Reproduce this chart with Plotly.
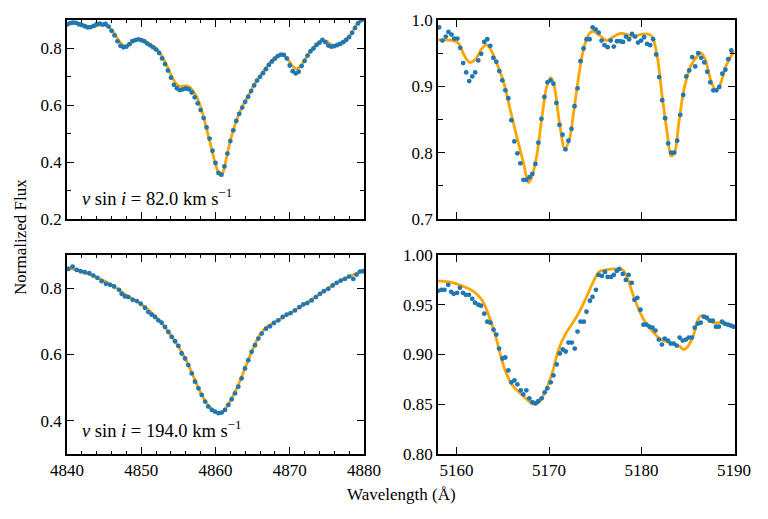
import plotly.graph_objects as go

# ---------------- data ----------------
# Top-left: H-beta, vsini = 82 km/s
wl_tl = [4840.0, 4840.4, 4840.8, 4841.2, 4841.6, 4842.0, 4842.4, 4842.8, 4843.2, 4843.6,
         4844.0, 4844.4, 4844.8, 4845.2, 4845.6, 4846.0, 4846.4, 4846.8, 4847.2, 4847.6,
         4848.0, 4848.4, 4848.8, 4849.2, 4849.6, 4850.0, 4850.4, 4850.8, 4851.2, 4851.6,
         4852.0, 4852.4, 4852.8, 4853.2, 4853.6, 4854.0, 4854.4, 4854.8, 4855.2, 4855.6,
         4856.0, 4856.4, 4856.8, 4857.2, 4857.6, 4858.0, 4858.4, 4858.8, 4859.2, 4859.6,
         4860.0, 4860.4, 4860.8, 4861.2, 4861.6, 4862.0, 4862.4, 4862.8, 4863.2, 4863.6,
         4864.0, 4864.4, 4864.8, 4865.2, 4865.6, 4866.0, 4866.4, 4866.8, 4867.2, 4867.6,
         4868.0, 4868.4, 4868.8, 4869.2, 4869.6, 4870.0, 4870.4, 4870.8, 4871.2, 4871.6,
         4872.0, 4872.4, 4872.8, 4873.2, 4873.6, 4874.0, 4874.4, 4874.8, 4875.2, 4875.6,
         4876.0, 4876.4, 4876.8, 4877.2, 4877.6, 4878.0, 4878.4, 4878.8, 4879.2, 4879.6,
         4880.0]
fx_tl = [0.884, 0.889, 0.891, 0.890, 0.885, 0.882, 0.878, 0.874, 0.875, 0.879,
         0.885, 0.887, 0.884, 0.886, 0.877, 0.862, 0.846, 0.825, 0.809, 0.804,
         0.806, 0.815, 0.826, 0.829, 0.832, 0.829, 0.825, 0.817, 0.811, 0.804,
         0.796, 0.784, 0.765, 0.745, 0.722, 0.697, 0.672, 0.660, 0.653, 0.656,
         0.659, 0.656, 0.645, 0.628, 0.607, 0.583, 0.555, 0.522, 0.483, 0.440,
         0.397, 0.362, 0.356, 0.385, 0.430, 0.474, 0.512, 0.545, 0.570, 0.592,
         0.612, 0.630, 0.650, 0.670, 0.687, 0.700, 0.713, 0.727, 0.742, 0.754,
         0.764, 0.773, 0.778, 0.777, 0.765, 0.740, 0.720, 0.712, 0.718, 0.738,
         0.756, 0.775, 0.790, 0.800, 0.812, 0.820, 0.830, 0.822, 0.810, 0.806,
         0.808, 0.812, 0.816, 0.822, 0.830, 0.840, 0.855, 0.872, 0.888, 0.899,
         0.903]
mwl_tl = [4840.0, 4841.0, 4842.0, 4843.0, 4844.0, 4844.6, 4845.4, 4846.0, 4846.6, 4847.2,
          4847.8, 4848.4, 4849.0, 4849.6, 4850.3, 4851.0, 4851.6, 4852.2, 4852.8, 4853.4,
          4854.0, 4854.6, 4855.2, 4855.8, 4856.4, 4857.0, 4857.6, 4858.2, 4858.8, 4859.4,
          4860.0, 4860.6, 4861.0, 4861.5, 4862.0, 4862.6, 4863.2, 4863.8, 4864.4, 4865.0,
          4865.6, 4866.2, 4866.8, 4867.4, 4868.0, 4868.6, 4869.2, 4869.8, 4870.4, 4870.9,
          4871.4, 4872.0, 4872.6, 4873.2, 4873.8, 4874.4, 4875.0, 4875.6, 4876.2, 4876.8,
          4877.4, 4878.0, 4878.6, 4879.2, 4880.0]
mfx_tl = [0.885, 0.888, 0.884, 0.876, 0.879, 0.883, 0.880, 0.866, 0.843, 0.820,
          0.808, 0.812, 0.825, 0.832, 0.830, 0.818, 0.807, 0.795, 0.773, 0.742,
          0.708, 0.679, 0.667, 0.668, 0.666, 0.650, 0.622, 0.577, 0.517, 0.455,
          0.392, 0.354, 0.364, 0.418, 0.476, 0.530, 0.572, 0.605, 0.633, 0.662,
          0.688, 0.711, 0.733, 0.752, 0.767, 0.778, 0.777, 0.760, 0.737, 0.728,
          0.736, 0.759, 0.783, 0.803, 0.819, 0.828, 0.824, 0.813, 0.811, 0.817,
          0.828, 0.842, 0.866, 0.891, 0.905]

# Top-right: Mg b region, vsini = 82 km/s
wl_tr = [5158.12, 5158.48, 5158.84, 5159.13, 5159.46, 5159.75, 5160.10, 5160.40, 5160.72, 5161.05,
         5161.37, 5161.70, 5162.02, 5162.35, 5162.67, 5163.00, 5163.32, 5163.65, 5163.98, 5164.30,
         5164.63, 5164.95, 5165.28, 5165.60, 5165.93, 5166.25, 5166.58, 5166.90, 5167.23, 5167.55,
         5167.88, 5168.20, 5168.53, 5168.85, 5169.18, 5169.50, 5169.83, 5170.16, 5170.48, 5170.80,
         5171.13, 5171.46, 5171.78, 5172.10, 5172.43, 5172.76, 5173.08, 5173.40, 5173.73, 5174.06,
         5174.38, 5174.71, 5175.03, 5175.36, 5175.68, 5176.00, 5176.34, 5176.66, 5177.00, 5177.35,
         5177.70, 5178.00, 5178.32, 5178.65, 5178.97, 5179.30, 5179.62, 5179.95, 5180.28, 5180.60,
         5180.93, 5181.25, 5181.58, 5181.90, 5182.23, 5182.55, 5182.88, 5183.20, 5183.53, 5183.85,
         5184.18, 5184.50, 5184.83, 5185.15, 5185.48, 5185.80, 5186.13, 5186.45, 5186.78, 5187.10,
         5187.43, 5187.76, 5188.08, 5188.40, 5188.73, 5189.06, 5189.38, 5189.70]
fx_tr = [0.989, 0.969, 0.975, 0.982, 0.978, 0.972, 0.972, 0.958, 0.935, 0.921,
         0.908, 0.915, 0.921, 0.939, 0.949, 0.967, 0.971, 0.961, 0.943, 0.937,
         0.923, 0.909, 0.894, 0.882, 0.849, 0.817, 0.799, 0.784, 0.759, 0.759,
         0.763, 0.768, 0.783, 0.815, 0.851, 0.884, 0.906, 0.909, 0.904, 0.875,
         0.842, 0.827, 0.805, 0.818, 0.836, 0.870, 0.897, 0.938, 0.957, 0.971,
         0.971, 0.989, 0.986, 0.981, 0.969, 0.962, 0.959, 0.969, 0.960, 0.968,
         0.968, 0.967, 0.975, 0.971, 0.979, 0.975, 0.966, 0.969, 0.974, 0.964,
         0.962, 0.971, 0.948, 0.914, 0.879, 0.852, 0.814, 0.800, 0.800, 0.818,
         0.857, 0.887, 0.915, 0.924, 0.944, 0.930, 0.950, 0.943, 0.936, 0.922,
         0.906, 0.894, 0.894, 0.899, 0.919, 0.925, 0.941, 0.954]
mwl_tr = [5158.0, 5159.64, 5160.2, 5160.9, 5161.45, 5162.0, 5162.7, 5163.2, 5163.6, 5164.34,
          5165.06, 5165.8, 5166.5, 5167.23, 5167.77, 5168.1, 5168.67, 5169.2, 5169.76, 5170.2,
          5170.6, 5171.13, 5171.7, 5172.2, 5172.7, 5173.37, 5173.9, 5174.46, 5174.8, 5175.54,
          5176.26, 5177.0, 5177.7, 5178.43, 5179.15, 5179.88, 5180.6, 5181.14, 5181.7, 5182.23,
          5182.77, 5183.2, 5183.57, 5184.03, 5184.58, 5185.3, 5186.0, 5186.45, 5186.9, 5187.47,
          5188.0, 5188.5, 5189.1, 5190.0]
mfx_tr = [0.970, 0.969, 0.965, 0.945, 0.936, 0.940, 0.956, 0.963, 0.958, 0.935,
          0.908, 0.865, 0.825, 0.785, 0.755, 0.762, 0.795, 0.850, 0.900, 0.913,
          0.898, 0.845, 0.806, 0.820, 0.865, 0.930, 0.965, 0.981, 0.983, 0.976,
          0.969, 0.975, 0.980, 0.978, 0.975, 0.978, 0.979, 0.975, 0.945, 0.885,
          0.830, 0.795, 0.800, 0.845, 0.895, 0.930, 0.945, 0.950, 0.940, 0.910,
          0.895, 0.903, 0.930, 0.953]

# Bottom-left: H-beta, vsini = 194 km/s
wl_bl = [4840.2, 4840.76, 4841.3, 4841.84, 4842.4, 4843.0, 4843.55, 4844.1, 4844.67, 4845.25,
         4845.8, 4846.33, 4847.0, 4847.36, 4847.8, 4848.26, 4848.84, 4849.4, 4849.92, 4850.5,
         4850.95, 4851.4, 4851.85, 4852.3, 4852.75, 4853.2, 4853.65, 4854.1, 4854.55, 4855.0,
         4855.44, 4855.9, 4856.34, 4856.8, 4857.24, 4857.7, 4858.14, 4858.6, 4859.03, 4859.5,
         4859.93, 4860.4, 4860.83, 4861.28, 4861.73, 4862.18, 4862.63, 4863.07, 4863.52, 4863.97,
         4864.42, 4864.87, 4865.32, 4865.77, 4866.22, 4866.8, 4867.34, 4867.88, 4868.46, 4869.05,
         4869.58, 4870.12, 4870.7, 4871.3, 4871.83, 4872.37, 4872.95, 4873.53, 4874.07, 4874.6,
         4875.2, 4875.78, 4876.32, 4876.86, 4877.44, 4878.0, 4878.56, 4879.0, 4879.46, 4879.9]
fx_bl = [0.858, 0.865, 0.855, 0.851, 0.848, 0.845, 0.838, 0.831, 0.821, 0.813,
         0.810, 0.805, 0.795, 0.783, 0.775, 0.773, 0.765, 0.761, 0.753, 0.741,
         0.728, 0.720, 0.713, 0.703, 0.696, 0.683, 0.668, 0.653, 0.640, 0.626,
         0.603, 0.588, 0.568, 0.543, 0.518, 0.498, 0.478, 0.458, 0.443, 0.433,
         0.428, 0.423, 0.425, 0.433, 0.448, 0.465, 0.483, 0.503, 0.528, 0.558,
         0.583, 0.608, 0.628, 0.648, 0.663, 0.678, 0.685, 0.695, 0.703, 0.713,
         0.720, 0.725, 0.733, 0.743, 0.751, 0.755, 0.763, 0.773, 0.783, 0.791,
         0.798, 0.808, 0.816, 0.823, 0.828, 0.835, 0.828, 0.841, 0.850, 0.851]
mwl_bl = [4840.0, 4842.0, 4844.0, 4846.0, 4848.0, 4850.0, 4852.0, 4854.0, 4856.0, 4857.0,
          4858.0, 4859.0, 4860.0, 4860.5, 4861.0, 4862.0, 4863.0, 4864.0, 4865.0, 4866.0,
          4867.0, 4868.0, 4870.0, 4872.0, 4874.0, 4876.0, 4878.0, 4880.0]
mfx_bl = [0.862, 0.850, 0.833, 0.810, 0.779, 0.752, 0.713, 0.658, 0.585, 0.535,
          0.485, 0.447, 0.427, 0.424, 0.428, 0.460, 0.505, 0.560, 0.615, 0.660,
          0.685, 0.698, 0.724, 0.752, 0.782, 0.812, 0.835, 0.855]

# Bottom-right: Mg b region, vsini = 194 km/s
wl_br = [5158.0, 5158.37, 5158.7, 5159.1, 5159.42, 5159.7, 5160.07, 5160.36, 5160.7, 5161.0,
         5161.35, 5161.7, 5162.0, 5162.36, 5162.65, 5163.0, 5163.33, 5163.66, 5164.0, 5164.3,
         5164.6, 5164.97, 5165.27, 5165.6, 5165.93, 5166.26, 5166.58, 5166.94, 5167.22, 5167.55,
         5167.87, 5168.2, 5168.55, 5168.84, 5169.2, 5169.53, 5169.82, 5170.18, 5170.47, 5170.83,
         5171.16, 5171.48, 5171.8, 5172.1, 5172.46, 5172.78, 5173.08, 5173.4, 5173.76, 5174.05,
         5174.42, 5174.7, 5175.07, 5175.36, 5175.72, 5176.05, 5176.34, 5176.7, 5177.0, 5177.32,
         5177.6, 5177.97, 5178.3, 5178.6, 5178.94, 5179.23, 5179.55, 5179.88, 5180.2, 5180.53,
         5180.86, 5181.18, 5181.5, 5181.87, 5182.2, 5182.5, 5182.86, 5183.15, 5183.47, 5183.8,
         5184.12, 5184.45, 5184.78, 5185.1, 5185.43, 5185.75, 5186.08, 5186.4, 5186.73, 5187.05,
         5187.38, 5187.7, 5188.04, 5188.36, 5188.7, 5189.0, 5189.35, 5189.67, 5189.93]
fx_br = [0.964, 0.965, 0.965, 0.970, 0.963, 0.961, 0.962, 0.967, 0.962, 0.960,
         0.960, 0.956, 0.952, 0.950, 0.949, 0.941, 0.933, 0.932, 0.925, 0.920,
         0.906, 0.896, 0.897, 0.884, 0.872, 0.874, 0.870, 0.864, 0.860, 0.864,
         0.856, 0.852, 0.851, 0.853, 0.856, 0.862, 0.866, 0.872, 0.879, 0.890,
         0.901, 0.905, 0.903, 0.912, 0.912, 0.906, 0.923, 0.933, 0.933, 0.943,
         0.954, 0.958, 0.965, 0.980, 0.979, 0.983, 0.978, 0.978, 0.980, 0.984,
         0.986, 0.981, 0.975, 0.980, 0.972, 0.955, 0.957, 0.945, 0.930, 0.930,
         0.928, 0.927, 0.924, 0.915, 0.910, 0.916, 0.914, 0.911, 0.911, 0.909,
         0.917, 0.914, 0.915, 0.917, 0.917, 0.927, 0.931, 0.932, 0.938, 0.937,
         0.934, 0.934, 0.928, 0.928, 0.933, 0.931, 0.930, 0.929, 0.928]
mwl_br = [5157.9, 5159.17, 5160.6, 5161.9, 5162.8, 5163.5, 5164.24, 5164.8, 5165.3, 5166.05,
          5166.77, 5167.7, 5168.4, 5168.9, 5169.6, 5170.33, 5171.07, 5171.8, 5172.5, 5173.23,
          5173.96, 5174.68, 5175.4, 5176.1, 5177.25, 5177.97, 5178.5, 5179.05, 5179.8, 5180.5,
          5181.2, 5181.95, 5182.7, 5183.4, 5184.12, 5184.55, 5185.0, 5185.6, 5186.1, 5186.47,
          5187.0, 5187.73, 5188.45, 5189.17, 5190.1]
mfx_br = [0.974, 0.973, 0.969, 0.963, 0.954, 0.939, 0.918, 0.898, 0.883, 0.869,
          0.862, 0.854, 0.850, 0.852, 0.863, 0.881, 0.906, 0.921, 0.931, 0.942,
          0.956, 0.971, 0.983, 0.985, 0.986, 0.985, 0.976, 0.961, 0.943, 0.931,
          0.923, 0.916, 0.913, 0.911, 0.908, 0.905, 0.908, 0.919, 0.935, 0.939,
          0.936, 0.932, 0.932, 0.930, 0.928]

labels = ["<i>v</i> sin <i>i</i> = 82.0 km s<sup>\u22121</sup>",
          "<i>v</i> sin <i>i</i> = 194.0 km s<sup>\u22121</sup>"]

# ---------------- figure ----------------
BLUE = "#1f77b4"
ORANGE = "#ffa500"
FONT = "Liberation Serif, DejaVu Serif, Times New Roman, serif"

fig = go.Figure()
panels = [
    (mwl_tl, mfx_tl, wl_tl, fx_tl, "x", "y"),
    (mwl_tr, mfx_tr, wl_tr, fx_tr, "x2", "y2"),
    (mwl_bl, mfx_bl, wl_bl, fx_bl, "x3", "y3"),
    (mwl_br, mfx_br, wl_br, fx_br, "x4", "y4"),
]
for mx, my, dx, dy, xa, ya in panels:
    fig.add_trace(go.Scatter(x=mx, y=my, mode="lines", xaxis=xa, yaxis=ya,
                             line=dict(color=ORANGE, width=2.8, shape="spline", smoothing=0.9),
                             showlegend=False, hoverinfo="skip"))
    fig.add_trace(go.Scatter(x=dx, y=dy, mode="markers", xaxis=xa, yaxis=ya,
                             marker=dict(color=BLUE, size=4.8, line=dict(width=0)),
                             showlegend=False, hoverinfo="skip"))

XL = [67 / 768, 364 / 768]
XR = [438 / 768, 735 / 768]
YT = [1 - 219 / 519, 1 - 20 / 519]
YB = [1 - 454 / 519, 1 - 255 / 519]

common = dict(showline=True, linecolor="black", linewidth=1.5, mirror="ticks",
              ticks="inside", ticklen=7, tickwidth=1.2, tickcolor="black",
              showgrid=False, zeroline=False, automargin=False,
              tickfont=dict(family=FONT, size=17, color="black"))


def mk(**kw):
    d = dict(common)
    d.update(kw)
    return d


fig.update_layout(
    template="none",
    width=768, height=519,
    margin=dict(l=0, r=0, t=0, b=0),
    paper_bgcolor="white", plot_bgcolor="white",
    font=dict(family=FONT, size=17, color="black"),
    xaxis=mk(domain=XL, anchor="y", range=[4840, 4880], tick0=4840, dtick=10,
             showticklabels=False,
             minor=dict(dtick=2, ticks="inside", ticklen=3.5, tickcolor="black", tickwidth=1)),
    yaxis=mk(domain=YT, anchor="x", range=[0.2, 0.9], tick0=0.2, dtick=0.2, tickformat=".1f",
             minor=dict(dtick=0.1, ticks="inside", ticklen=4, tickcolor="black", tickwidth=1)),
    xaxis2=mk(domain=XR, anchor="y2", range=[5158, 5190.1], tick0=5160, dtick=10,
              showticklabels=False),
    yaxis2=mk(domain=YT, anchor="x2", range=[0.7, 1.0], tick0=0.7, dtick=0.1, tickformat=".1f",
              minor=dict(dtick=0.05, ticks="inside", ticklen=5, tickcolor="black", tickwidth=1)),
    xaxis3=mk(domain=XL, anchor="y3", range=[4840, 4880], tick0=4840, dtick=10,
              minor=dict(dtick=2, ticks="inside", ticklen=3.5, tickcolor="black", tickwidth=1)),
    yaxis3=mk(domain=YB, anchor="x3", range=[0.3, 0.9], tick0=0.4, dtick=0.2, tickformat=".1f"),
    xaxis4=mk(domain=XR, anchor="y4", range=[5158, 5190.1], tick0=5160, dtick=10),
    yaxis4=mk(domain=YB, anchor="x4", range=[0.8, 1.0], tick0=0.8, dtick=0.05, tickformat=".2f"),
)

annots = [
    dict(text=labels[0], x=80 / 768, y=1 - 197 / 519, xanchor="left", yanchor="middle", size=18.5),
    dict(text=labels[1], x=80 / 768, y=1 - 429 / 519, xanchor="left", yanchor="middle", size=18.5),
    dict(text="Wavelength (\u00c5)", x=401 / 768, y=1 - 494 / 519, xanchor="center",
         yanchor="middle", size=17),
    dict(text="Normalized Flux", x=21 / 768, y=1 - 237 / 519, xanchor="center", yanchor="middle",
         textangle=-90, size=17),
]
for a in annots:
    sz = a.pop("size")
    fig.add_annotation(xref="paper", yref="paper", showarrow=False, align="left",
                       font=dict(family=FONT, size=sz, color="black"), **a)

fig.write_html("out.html")
